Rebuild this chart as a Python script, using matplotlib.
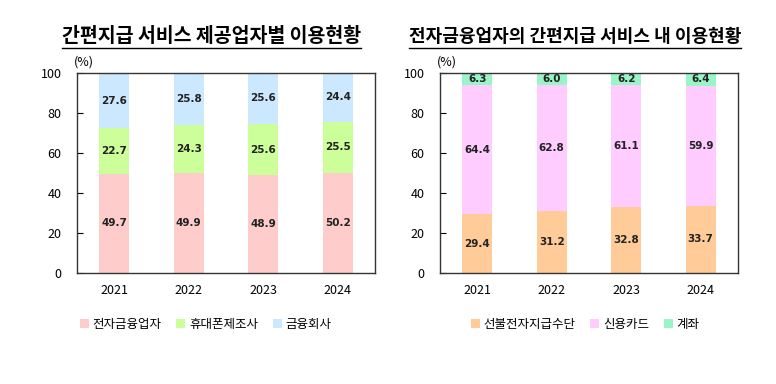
import numpy as np
import matplotlib
matplotlib.use("Agg")
import matplotlib.pyplot as plt
from matplotlib.patches import Patch
from matplotlib.lines import Line2D

plt.rcParams['font.family'] = ['Noto Sans CJK KR', 'DejaVu Sans']

years = ['2021', '2022', '2023', '2024']

# left: by provider
left_title = '간편지급 서비스 제공업자별 이용현황'
left_names = ['전자금융업자', '휴대폰제조사', '금융회사']
left_vals = [
    [49.7, 49.9, 48.9, 50.2],
    [22.7, 24.3, 25.6, 25.5],
    [27.6, 25.8, 25.6, 24.4],
]
left_colors = ['#FFCCCC', '#CCFF99', '#CCE8FF']

# right: inside e-finance firms
right_title = '전자금융업자의 간편지급 서비스 내 이용현황'
right_names = ['선불전자지급수단', '신용카드', '계좌']
right_vals = [
    [29.4, 31.2, 32.8, 33.7],
    [64.4, 62.8, 61.1, 59.9],
    [6.3, 6.0, 6.2, 6.4],
]
right_colors = ['#FFCC99', '#FFCCFF', '#99F5C8']

fig = plt.figure(figsize=(7.76, 3.84), dpi=100)


def draw(rect, names, vals, colors, title, title_x, leg_x, tsize):
    ax = fig.add_axes(rect)
    x = np.arange(len(years))
    bottom = np.zeros(len(years))
    for name, v, c in zip(names, vals, colors):
        v = np.array(v)
        ax.bar(x, v, 0.4, bottom=bottom, color=c, label=name)
        for xi, b, vi in zip(x, bottom, v):
            ax.text(xi, b + vi / 2, f'{vi:.1f}', ha='center', va='center',
                    fontsize=7.5, fontweight='bold', color='#222222',
                    family=['DejaVu Sans'])
        bottom += v
    ax.set_xlim(-0.5, 3.5)
    ax.set_ylim(0, 100)
    ax.set_yticks([0, 20, 40, 60, 80, 100])
    ax.set_xticks(x)
    ax.set_xticklabels(years)
    ax.tick_params(axis='y', direction='in', length=4, pad=11, labelsize=9)
    ax.tick_params(axis='x', length=0, pad=8, labelsize=9)
    for s in ax.spines.values():
        s.set_color('#333333')
        s.set_linewidth(1.0)
    ax.text(-0.01, 1.02, '(%)', transform=ax.transAxes, fontsize=9,
            ha='left', va='bottom')
    t = fig.text(title_x, 0.905, title, ha='center', va='center',
                 fontsize=tsize, fontweight='bold')
    handles = [Patch(facecolor=c, edgecolor='none') for c in colors]
    fig.legend(handles, names, loc='center', bbox_to_anchor=(leg_x, 0.155),
               ncol=3, frameon=False, fontsize=9, handlelength=0.7,
               handleheight=0.7, handletextpad=0.3, columnspacing=1.2)
    return t


t1 = draw([0.0992, 0.289, 0.384, 0.521], left_names, left_vals, left_colors,
          left_title, 0.272, 0.265, 14)
t2 = draw([0.567, 0.289, 0.384, 0.521], right_names, right_vals, right_colors,
          right_title, 0.741, 0.754, 13)

# underline titles
fig.canvas.draw()
r = fig.canvas.get_renderer()
for t in (t1, t2):
    bb = t.get_window_extent(r).transformed(fig.transFigure.inverted())
    y = bb.y0 - 0.004
    fig.add_artist(Line2D([bb.x0, bb.x1], [y, y], color='black', lw=1.0,
                          transform=fig.transFigure))

fig.savefig('out.png', dpi=100)
